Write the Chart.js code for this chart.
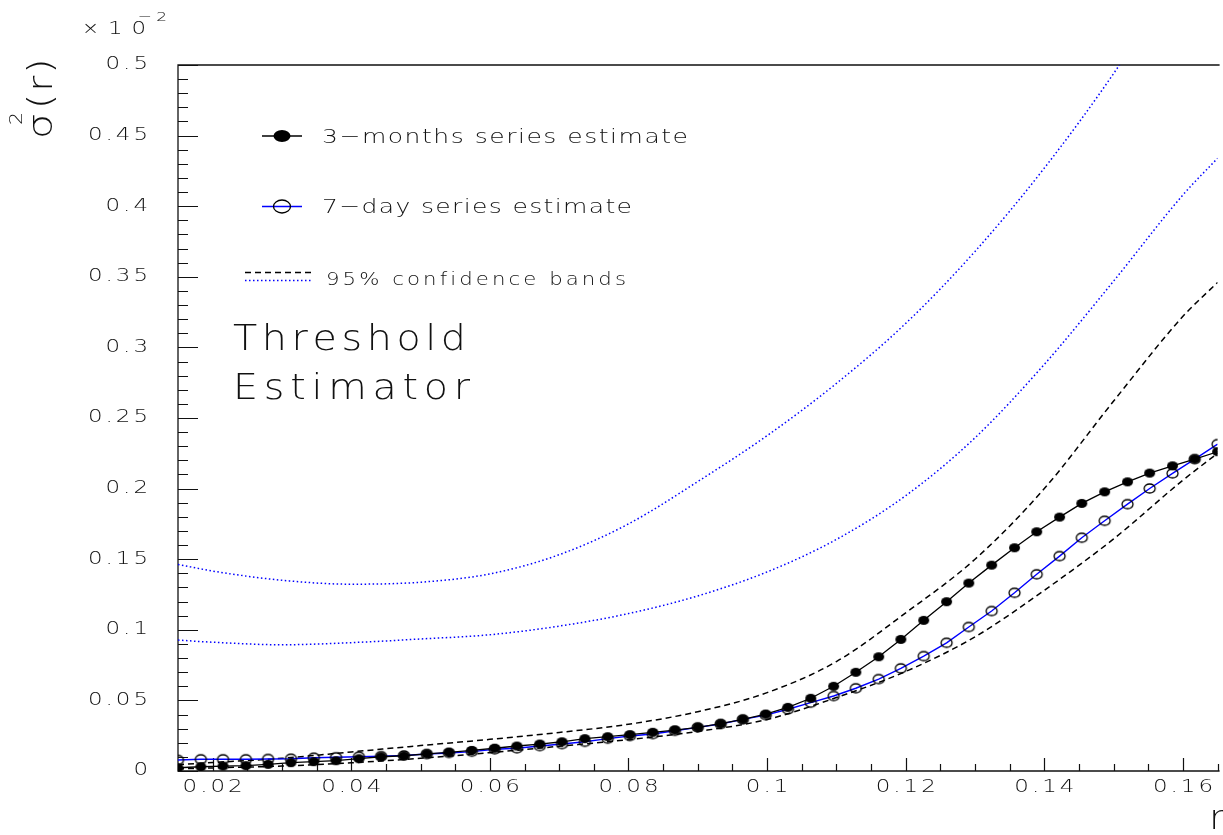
<!DOCTYPE html>
<html>
<head>
<meta charset="utf-8">
<script src="https://cdn.jsdelivr.net/npm/chart.js@4"></script>
<style>
  html, body { margin: 0; padding: 0; background: #fff; overflow: hidden; }
  canvas { display: block; }
</style>
</head>
<body>
<canvas id="sigmaChart" width="1223" height="835"></canvas>
<script>
// r grid of the two estimates
const rValues = [
  0.0150, 0.0183, 0.0215, 0.0248, 0.0280, 0.0313, 0.0346, 0.0378, 0.0411, 0.0443,
  0.0476, 0.0509, 0.0541, 0.0574, 0.0607, 0.0639, 0.0672, 0.0704, 0.0737, 0.0770,
  0.0802, 0.0835, 0.0867, 0.0900, 0.0933, 0.0965, 0.0998, 0.1030, 0.1063, 0.1096,
  0.1128, 0.1161, 0.1193, 0.1226, 0.1259, 0.1291, 0.1324, 0.1357, 0.1389, 0.1422,
  0.1454, 0.1487, 0.1520, 0.1552, 0.1585, 0.1617, 0.1650
];

// sigma^2(r), in units of 1e-2
const threeMonths = [
  0.0023, 0.0030, 0.0035, 0.0038, 0.0047, 0.0059, 0.0066, 0.0073, 0.0087, 0.0101,
  0.0108, 0.0122, 0.0132, 0.0146, 0.0161, 0.0177, 0.0191, 0.0207, 0.0229, 0.0243,
  0.0257, 0.0274, 0.0290, 0.0309, 0.0335, 0.0366, 0.0402, 0.0451, 0.0515, 0.0600,
  0.0699, 0.0809, 0.0932, 0.1067, 0.1199, 0.1331, 0.1458, 0.1581, 0.1694, 0.1798,
  0.1895, 0.1977, 0.2048, 0.2110, 0.2161, 0.2209, 0.2261
];
const sevenDay = [
  0.0078, 0.0083, 0.0083, 0.0083, 0.0085, 0.0087, 0.0094, 0.0097, 0.0101, 0.0105,
  0.0110, 0.0120, 0.0128, 0.0137, 0.0154, 0.0161, 0.0177, 0.0191, 0.0207, 0.0229,
  0.0248, 0.0262, 0.0285, 0.0309, 0.0333, 0.0366, 0.0396, 0.0437, 0.0484, 0.0531,
  0.0586, 0.0651, 0.0727, 0.0814, 0.0908, 0.1020, 0.1133, 0.1262, 0.1393, 0.1522,
  0.1652, 0.1772, 0.1890, 0.2001, 0.2108, 0.2209, 0.2315
];

// 95% confidence bands
const bandR = [0.015, 0.02, 0.03, 0.04, 0.05, 0.06, 0.07, 0.08, 0.09, 0.10, 0.11, 0.12, 0.13, 0.14, 0.15, 0.16, 0.165];
const band3mUpper = [0.0045, 0.0060, 0.0090, 0.0135, 0.0180, 0.0224, 0.0273, 0.0331, 0.0420, 0.0555, 0.0775, 0.1120, 0.1500, 0.2000, 0.2620, 0.3220, 0.3460];
const band3mLower = [0.0015, 0.0022, 0.0035, 0.0058, 0.0090, 0.0130, 0.0175, 0.0222, 0.0280, 0.0365, 0.0520, 0.0705, 0.0950, 0.1280, 0.1644, 0.2060, 0.2250];
const band7dUpper = [0.1463, 0.1416, 0.1351, 0.1323, 0.1337, 0.1396, 0.1532, 0.1750, 0.2050, 0.2375, 0.2745, 0.3170, 0.3680, 0.4270, 0.4940, 0.5700, 0.6100];
const band7dLower = [0.0927, 0.0912, 0.0894, 0.0909, 0.0935, 0.0965, 0.1026, 0.1115, 0.1240, 0.1410, 0.1640, 0.1950, 0.2360, 0.2880, 0.3470, 0.4080, 0.4340];

const xTickValues = [0.02, 0.04, 0.06, 0.08, 0.10, 0.12, 0.14, 0.16];
const xTickLabels = ['0.02', '0.04', '0.06', '0.08', '0.1', '0.12', '0.14', '0.16'];
const yTickValues = [0, 0.05, 0.10, 0.15, 0.20, 0.25, 0.30, 0.35, 0.40, 0.45, 0.50];
const yTickLabels = ['0', '0.05', '0.1', '0.15', '0.2', '0.25', '0.3', '0.35', '0.4', '0.45', '0.5'];

const FONT = '"DejaVu Sans", "Liberation Sans", sans-serif';

const toPoints = (xs, ys) => xs.map((x, i) => ({ x: x, y: ys[i] }));

// ROOT-like elliptical markers
function makeMarker(rx, ry, filled) {
  const c = document.createElement('canvas');
  c.width = Math.ceil(2 * rx + 4);
  c.height = Math.ceil(2 * ry + 4);
  const g = c.getContext('2d');
  g.beginPath();
  g.ellipse(c.width / 2, c.height / 2, rx, ry, 0, 0, 2 * Math.PI);
  if (filled) {
    g.fillStyle = '#000';
    g.fill();
  } else {
    g.strokeStyle = '#000';
    g.lineWidth = 1.3;
    g.stroke();
  }
  return c;
}

const filledDot = makeMarker(5.5, 4.5, true);
const openDot = makeMarker(5.5, 4.5, false);

// draw text char by char, stretched horizontally by sx, with extra spacing
function spacedText(ctx, str, x, y, ls, align, sx) {
  sx = sx || 1;
  const chars = [...str];
  const widths = chars.map(c => ctx.measureText(c).width * sx);
  const total = widths.reduce((a, b) => a + b, 0) + ls * (chars.length - 1);
  let cx = x;
  if (align === 'right') cx = x - total;
  if (align === 'center') cx = x - total / 2;
  ctx.textAlign = 'left';
  chars.forEach((c, i) => {
    ctx.save();
    ctx.translate(cx, y);
    ctx.scale(sx, 1);
    ctx.fillText(c, 0, 0);
    ctx.restore();
    cx += widths[i] + ls;
  });
  return total;
}

function fitText(ctx, str, x, y, width, sx) {
  sx = sx || 1;
  const chars = [...str];
  const raw = chars.reduce((a, c) => a + ctx.measureText(c).width * sx, 0);
  const ls = (width - raw) / (chars.length - 1);
  return spacedText(ctx, str, x, y, ls, 'left', sx);
}

const rootFrame = {
  id: 'rootFrame',
  beforeDatasetsDraw(chart) {
    const { ctx, chartArea: a, scales } = chart;
    ctx.save();
    ctx.strokeStyle = '#111';
    ctx.lineWidth = 1.3;
    ctx.beginPath();
    ctx.moveTo(a.right + 2, a.top);
    ctx.lineTo(a.left, a.top);
    ctx.lineTo(a.left, a.bottom);
    ctx.lineTo(a.right + 2, a.bottom);
    ctx.stroke();

    // ticks point into the frame
    ctx.lineWidth = 1.2;
    ctx.beginPath();
    for (let v = 0; v <= 0.5001; v += 0.01) {
      const py = Math.round(scales.y.getPixelForValue(v)) + 0.5;
      const major = Math.abs(v / 0.05 - Math.round(v / 0.05)) < 1e-6;
      ctx.moveTo(a.left, py);
      ctx.lineTo(a.left + (major ? 20 : 10), py);
    }
    for (let v = 0.015; v <= 0.1651; v += 0.005) {
      const px = Math.round(scales.x.getPixelForValue(v)) + 0.5;
      const major = Math.abs(v / 0.02 - Math.round(v / 0.02)) < 1e-6;
      ctx.moveTo(px, a.bottom);
      ctx.lineTo(px, a.bottom - (major ? 13 : 7));
    }
    ctx.stroke();
    ctx.restore();
  },
  afterDraw(chart) {
    const { ctx, scales } = chart;
    ctx.save();
    ctx.fillStyle = '#111';

    // tick labels
    ctx.font = '200 17px ' + FONT;
    ctx.textBaseline = 'middle';
    yTickValues.forEach((v, i) => {
      spacedText(ctx, yTickLabels[i], 148, scales.y.getPixelForValue(v), 3, 'right', 1.35);
    });
    xTickValues.forEach((v, i) => {
      spacedText(ctx, xTickLabels[i], scales.x.getPixelForValue(v), 788, 3, 'center', 1.35);
    });

    // exponent
    ctx.textBaseline = 'alphabetic';
    ctx.font = '200 17px ' + FONT;
    spacedText(ctx, '\u00d7', 82, 34, 0, 'left', 1.2);
    fitText(ctx, '10', 108, 34, 38, 1.35);
    ctx.font = '200 13px ' + FONT;
    fitText(ctx, '\u22122', 138, 21, 29, 1.3);

    // axis titles
    ctx.font = '200 33px ' + FONT;
    spacedText(ctx, 'r', 1209, 829, 0, 'left', 1.15);

    ctx.save();
    ctx.translate(52, 140);
    ctx.rotate(-Math.PI / 2);
    ctx.font = '200 34px ' + FONT;
    spacedText(ctx, '\u03c3', 1, 0, 0, 'left', 1.2);
    ctx.font = '200 17px ' + FONT;
    spacedText(ctx, '2', 15, -30, 0, 'left', 1.2);
    ctx.font = '200 34px ' + FONT;
    spacedText(ctx, '(r)', 31, 0, 2, 'left', 1.15);
    ctx.restore();

    // legend
    ctx.lineWidth = 1.3;
    ctx.strokeStyle = '#000';
    ctx.beginPath();
    ctx.moveTo(262, 136);
    ctx.lineTo(302, 136);
    ctx.stroke();
    ctx.beginPath();
    ctx.ellipse(282, 136, 8.5, 6, 0, 0, 2 * Math.PI);
    ctx.fillStyle = '#000';
    ctx.fill();

    ctx.strokeStyle = '#0000ff';
    ctx.beginPath();
    ctx.moveTo(262, 206.5);
    ctx.lineTo(302, 206.5);
    ctx.stroke();
    ctx.strokeStyle = '#000';
    ctx.beginPath();
    ctx.ellipse(282, 206.5, 8.5, 6.5, 0, 0, 2 * Math.PI);
    ctx.stroke();

    ctx.lineWidth = 1.5;
    ctx.setLineDash([6, 4]);
    ctx.beginPath();
    ctx.moveTo(245, 272.5);
    ctx.lineTo(312, 272.5);
    ctx.stroke();
    ctx.strokeStyle = '#0000ff';
    ctx.setLineDash([1.5, 2.5]);
    ctx.beginPath();
    ctx.moveTo(245, 280.5);
    ctx.lineTo(312, 280.5);
    ctx.stroke();
    ctx.setLineDash([]);

    ctx.fillStyle = '#111';
    ctx.font = '200 20px ' + FONT;
    fitText(ctx, '3\u2212months series estimate', 322, 143, 366, 1.25);
    fitText(ctx, '7\u2212day series estimate', 322, 213, 310, 1.25);
    ctx.font = '200 17px ' + FONT;
    fitText(ctx, '95% confidence bands', 326, 285, 300, 1.25);

    ctx.font = '200 36px ' + FONT;
    fitText(ctx, 'Threshold', 233, 350, 233, 1.1);
    fitText(ctx, 'Estimator', 233, 399, 237, 1.1);
    ctx.restore();
  }
};

const bandStyle = {
  pointRadius: 0,
  showLine: true,
  borderWidth: 1.5,
  fill: false,
  cubicInterpolationMode: 'monotone'
};

new Chart(document.getElementById('sigmaChart'), {
  type: 'scatter',
  data: {
    datasets: [
      {
        label: '3-months series estimate',
        data: toPoints(rValues, threeMonths),
        showLine: true,
        borderColor: '#000',
        borderWidth: 1.3,
        pointStyle: filledDot,
        order: 0
      },
      {
        label: '7-day series estimate',
        data: toPoints(rValues, sevenDay),
        showLine: true,
        borderColor: '#0000ff',
        borderWidth: 1.4,
        pointStyle: openDot,
        order: 1
      },
      Object.assign({ label: '3m upper', data: toPoints(bandR, band3mUpper), borderColor: '#000', borderDash: [6, 4], order: 2 }, bandStyle),
      Object.assign({ label: '3m lower', data: toPoints(bandR, band3mLower), borderColor: '#000', borderDash: [6, 4], order: 2 }, bandStyle),
      Object.assign({ label: '7d upper', data: toPoints(bandR, band7dUpper), borderColor: '#0000ff', borderDash: [1.5, 2.5], order: 3 }, bandStyle),
      Object.assign({ label: '7d lower', data: toPoints(bandR, band7dLower), borderColor: '#0000ff', borderDash: [1.5, 2.5], order: 3 }, bandStyle)
    ]
  },
  options: {
    responsive: false,
    animation: false,
    devicePixelRatio: 1,
    layout: { padding: { left: 178, top: 65, right: 0, bottom: 64 } },
    plugins: {
      legend: { display: false },
      tooltip: { enabled: false }
    },
    scales: {
      x: { type: 'linear', min: 0.015, max: 0.165, display: false },
      y: { type: 'linear', min: 0, max: 0.5, display: false }
    }
  },
  plugins: [rootFrame]
});
</script>
</body>
</html>
